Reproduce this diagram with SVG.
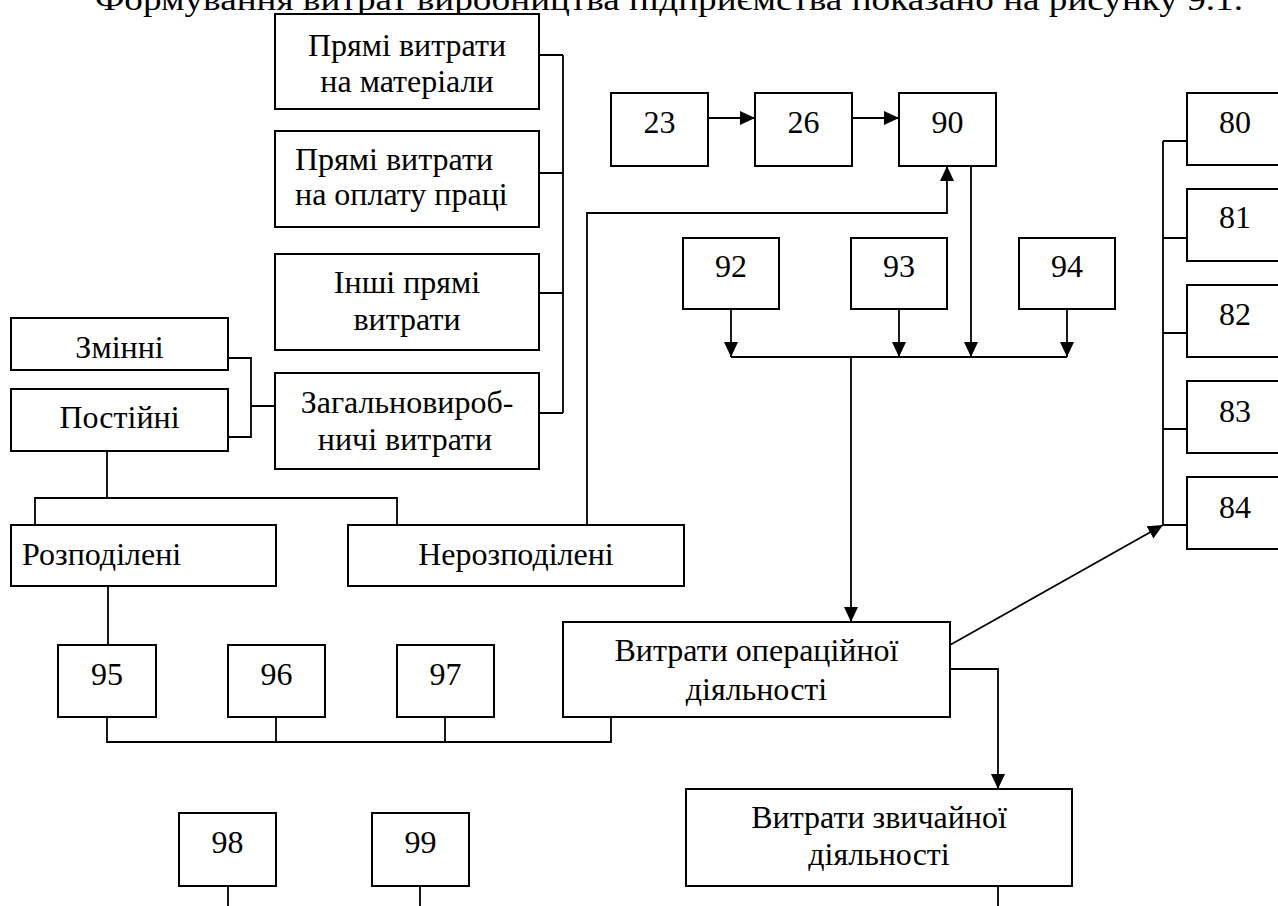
<svg xmlns="http://www.w3.org/2000/svg" width="1278" height="906" viewBox="0 0 1278 906">
<defs>
<style>
.box{fill:#fff;stroke:#000;stroke-width:2}
.t{font-family:"Liberation Serif","Times New Roman",serif;font-size:32px;fill:#000}
.c{text-anchor:middle}
.ln{fill:none;stroke:#000;stroke-width:1.8}
.ar{fill:none;stroke:#000;stroke-width:1.8;marker-end:url(#ah)}
</style>
<marker id="ah" markerUnits="userSpaceOnUse" markerWidth="16" markerHeight="16" viewBox="0 0 16 16" refX="15" refY="8" orient="auto">
<path d="M0,1 L15,8 L0,15 Z" fill="#000"/>
</marker>
</defs>
<rect width="1278" height="906" fill="#fff"/>
<text class="t" x="95" y="10" textLength="1148" lengthAdjust="spacingAndGlyphs">Формування витрат виробництва підприємства показано на рисунку 9.1.</text>

<g id="connectors">
<path class="ln" d="M539,55 H563 M539,173 H563 M539,293 H563 M539,413 H563 M563,55 V413"/>
<path class="ln" d="M228,358 H251 V437 H228 M251,406 H275"/>
<path class="ln" d="M107,451 V498 M35,525 V498 H397 V525"/>
<path class="ar" d="M587,525 V213 H947 V166"/>
<path class="ar" d="M708,118 H755"/>
<path class="ar" d="M852,118 H899"/>
<path class="ar" d="M971,166 V357"/>
<path class="ar" d="M731,309 V357"/>
<path class="ar" d="M899,309 V357"/>
<path class="ar" d="M1067,309 V357"/>
<path class="ln" d="M731,357 H1067"/>
<path class="ar" d="M851,357 V622"/>
<path class="ar" d="M950,645 L1163,525"/>
<path class="ln" d="M1163,141 V525 M1163,141 H1187 M1163,238 H1187 M1163,333 H1187 M1163,429 H1187 M1163,525 H1187"/>
<path class="ar" d="M950,669 H998 V789"/>
<path class="ln" d="M998,886 V906"/>
<path class="ln" d="M108,586 V645"/>
<path class="ln" d="M107,717 V742 H611 V717 M276,717 V742 M445,717 V742"/>
<path class="ln" d="M228,886 V906 M420,886 V906"/>
</g>

<g id="n-mat"><rect class="box" x="275" y="14" width="264" height="95"/><text class="t c" x="407" y="56">Прямі витрати</text><text class="t c" x="407" y="92">на матеріали</text></g>
<g id="n-pay"><rect class="box" x="275" y="131" width="264" height="96"/><text class="t" x="295" y="170">Прямі витрати</text><text class="t" x="295" y="205">на оплату праці</text></g>
<g id="n-other"><rect class="box" x="275" y="254" width="264" height="96"/><text class="t c" x="407" y="293">Інші прямі</text><text class="t c" x="407" y="330">витрати</text></g>
<g id="n-gen"><rect class="box" x="275" y="373" width="264" height="96"/><text class="t c" x="407" y="413">Загальновироб-</text><text class="t c" x="405" y="450">ничі витрати</text></g>
<g id="n-var"><rect class="box" x="11" y="318" width="217" height="52"/><text class="t c" x="119.5" y="358">Змінні</text></g>
<g id="n-fix"><rect class="box" x="11" y="389" width="217" height="62"/><text class="t c" x="119.5" y="428">Постійні</text></g>
<g id="n-dist"><rect class="box" x="11" y="525" width="265" height="61"/><text class="t" x="22" y="565">Розподілені</text></g>
<g id="n-undist"><rect class="box" x="348" y="525" width="336" height="61"/><text class="t c" x="516" y="565">Нерозподілені</text></g>
<g id="n-23"><rect class="box" x="611" y="93" width="97" height="73"/><text class="t c" x="659.5" y="133">23</text></g>
<g id="n-26"><rect class="box" x="755" y="93" width="97" height="73"/><text class="t c" x="803.5" y="133">26</text></g>
<g id="n-90"><rect class="box" x="899" y="93" width="97" height="73"/><text class="t c" x="947.5" y="133">90</text></g>
<g id="n-92"><rect class="box" x="683" y="238" width="96" height="71"/><text class="t c" x="731" y="277">92</text></g>
<g id="n-93"><rect class="box" x="851" y="238" width="96" height="71"/><text class="t c" x="899" y="277">93</text></g>
<g id="n-94"><rect class="box" x="1019" y="238" width="96" height="71"/><text class="t c" x="1067" y="277">94</text></g>
<g id="n-80"><rect class="box" x="1187" y="93" width="97" height="72"/><text class="t c" x="1235" y="133">80</text></g>
<g id="n-81"><rect class="box" x="1187" y="189" width="97" height="72"/><text class="t c" x="1235" y="228">81</text></g>
<g id="n-82"><rect class="box" x="1187" y="285" width="97" height="72"/><text class="t c" x="1235" y="325">82</text></g>
<g id="n-83"><rect class="box" x="1187" y="381" width="97" height="72"/><text class="t c" x="1235" y="422">83</text></g>
<g id="n-84"><rect class="box" x="1187" y="477" width="97" height="72"/><text class="t c" x="1235" y="518">84</text></g>
<g id="n-op"><rect class="box" x="563" y="622" width="387" height="95"/><text class="t c" x="756.5" y="661">Витрати операційної</text><text class="t c" x="756.5" y="700">діяльності</text></g>
<g id="n-95"><rect class="box" x="58" y="645" width="98" height="72"/><text class="t c" x="107" y="685">95</text></g>
<g id="n-96"><rect class="box" x="228" y="645" width="97" height="72"/><text class="t c" x="276.5" y="685">96</text></g>
<g id="n-97"><rect class="box" x="397" y="645" width="97" height="72"/><text class="t c" x="445.5" y="685">97</text></g>
<g id="n-ord"><rect class="box" x="686" y="789" width="386" height="97"/><text class="t c" x="879" y="828">Витрати звичайної</text><text class="t c" x="879" y="865">діяльності</text></g>
<g id="n-98"><rect class="box" x="179" y="813" width="97" height="73"/><text class="t c" x="227.5" y="853">98</text></g>
<g id="n-99"><rect class="box" x="372" y="813" width="97" height="73"/><text class="t c" x="420.5" y="853">99</text></g>
</svg>
